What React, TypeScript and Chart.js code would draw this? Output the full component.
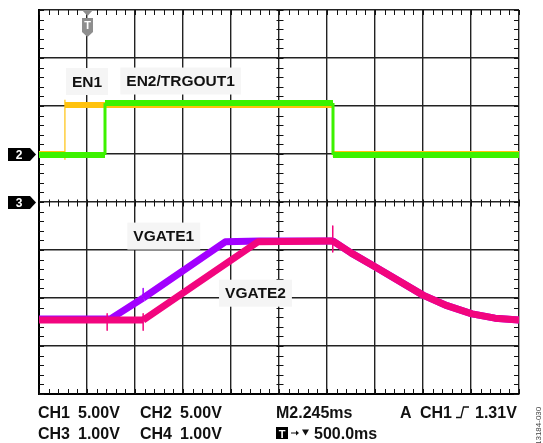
import React, { useEffect, useRef } from 'react';
import { Chart, registerables } from 'chart.js';

Chart.register(...registerables);

// ---- screen geometry (oscilloscope graticule: 10 x 8 divisions) ----
const X_DIVS = 10;
const Y_DIVS = 8;

// ---- CH1: EN1 (yellow) — time in divisions, level in divisions from bottom ----
const en1Time = [0, 0.54, 0.54, 0.54, 0.54, 6.12, 6.12, 10];
const en1Level = [5.0, 5.0, 4.88, 6.13, 6.02, 6.02, 5.0, 5.0];

// ---- CH2: EN2/TRGOUT1 (green) ----
const en2Time = [0, 1.375, 1.375, 6.125, 6.125, 10];
const en2Level = [4.98, 4.98, 6.06, 6.06, 4.98, 4.98];

// ---- CH3: VGATE1 (purple) ----
const vg1Time = [0, 1.48, 2.17, 2.17, 2.17, 3.88, 4.6, 6.12, 6.5, 7.0, 8.0, 8.5, 9.02, 9.5, 10];
const vg1Level = [1.56, 1.56, 2.0, 2.2, 2.0, 3.17, 3.19, 3.19, 2.94, 2.65, 2.06, 1.84, 1.67, 1.58, 1.54];

// ---- CH4: VGATE2 (pink) ----
const vg2Time = [0, 1.42, 1.42, 1.42, 1.42, 2.17, 2.17, 2.17, 2.17, 4.56, 6.12, 6.12, 6.12, 6.12, 6.5, 7.0, 8.0, 8.5, 9.02, 9.5, 10];
const vg2Level = [1.54, 1.54, 1.67, 1.33, 1.54, 1.54, 1.67, 1.33, 1.54, 3.17, 3.19, 3.5, 2.96, 3.19, 2.94, 2.65, 2.06, 1.84, 1.67, 1.58, 1.54];

// ---- trace labels (anchored in division coordinates) ----
const labelText = ['EN1', 'EN2/TRGOUT1', 'VGATE1', 'VGATE2'];
const labelX = [1.0, 2.95, 2.6, 4.51];
const labelY = [6.51, 6.52, 3.29, 2.1];

// ---- channel ground markers ----
const markerText = ['2', '3'];
const markerLevel = [5, 4];

// ---- trigger position marker ----
const triggerTime = 1;

// ---- readout text ----
const readoutRow1 = ['CH1', '5.00V', 'CH2', '5.00V', 'M2.245ms', 'A', 'CH1', '1.31V'];
const readoutRow1X = [38, 78, 140, 180, 276, 400, 420, 475];
const readoutRow2 = ['CH3', '1.00V', 'CH4', '1.00V', '500.0ms'];
const readoutRow2X = [38, 78, 140, 180, 314];
const figureId = '13184-030';

const COLORS = {
  en1: '#FFC20E',
  en2: '#3CF200',
  vg1: '#A200FF',
  vg2: '#F2057E',
};

const toPts = (xs: number[], ys: number[]) => xs.map((x, i) => ({ x, y: ys[i] }));

const segWidth = (thick: number, thin: number) => ({
  borderWidth: (ctx: any) => (ctx.p0.parsed.x === ctx.p1.parsed.x ? thin : thick),
});

const FONT = '"Liberation Sans", Arial, Helvetica, sans-serif';

const scopePlugin = {
  id: 'scopeDecor',
  beforeDatasetsDraw(chart: any) {
    const { ctx, chartArea: a, scales } = chart;
    const xs = scales.x;
    const ys = scales.y;
    ctx.save();
    ctx.strokeStyle = '#111';
    ctx.lineWidth = 1;
    const xc = Math.round(xs.getPixelForValue(X_DIVS / 2)) + 0.5;
    const yc = Math.round(ys.getPixelForValue(Y_DIVS / 2)) + 0.5;
    ctx.beginPath();
    for (let i = 0; i <= X_DIVS * 5; i++) {
      const x = Math.round(xs.getPixelForValue(i / 5)) + 0.5;
      ctx.moveTo(x, a.top);
      ctx.lineTo(x, a.top + 5);
      ctx.moveTo(x, a.bottom);
      ctx.lineTo(x, a.bottom - 5);
      ctx.moveTo(x, yc - 3);
      ctx.lineTo(x, yc + 4);
    }
    for (let j = 0; j <= Y_DIVS * 5; j++) {
      const y = Math.round(ys.getPixelForValue(j / 5)) + 0.5;
      ctx.moveTo(a.left, y);
      ctx.lineTo(a.left + 5, y);
      ctx.moveTo(a.right, y);
      ctx.lineTo(a.right - 5, y);
      ctx.moveTo(xc - 3, y);
      ctx.lineTo(xc + 4, y);
    }
    ctx.stroke();
    ctx.restore();
  },
  afterDatasetsDraw(chart: any) {
    const { ctx, chartArea: a, scales } = chart;
    const xs = scales.x;
    const ys = scales.y;
    ctx.save();
    // labels with light boxes
    ctx.font = `bold 15.5px ${FONT}`;
    ctx.textAlign = 'center';
    ctx.textBaseline = 'middle';
    labelText.forEach((t, i) => {
      const cx = xs.getPixelForValue(labelX[i]);
      const cy = ys.getPixelForValue(labelY[i]);
      const w = ctx.measureText(t).width + 12;
      const h = 27;
      ctx.fillStyle = '#F5F5F5';
      ctx.fillRect(cx - w / 2, cy - h / 2, w, h);
      ctx.fillStyle = '#111';
      ctx.fillText(t, cx, cy + 1);
    });

    // channel markers on the left
    markerText.forEach((t, i) => {
      const cy = Math.round(ys.getPixelForValue(markerLevel[i])) + 0.5;
      ctx.fillStyle = '#000';
      ctx.beginPath();
      ctx.moveTo(8, cy - 6.5);
      ctx.lineTo(30, cy - 6.5);
      ctx.lineTo(36, cy);
      ctx.lineTo(30, cy + 6.5);
      ctx.lineTo(8, cy + 6.5);
      ctx.closePath();
      ctx.fill();
      ctx.fillStyle = '#fff';
      ctx.font = `bold 12px ${FONT}`;
      ctx.textAlign = 'center';
      ctx.fillText(t, 19, cy + 1);
    });

    // trigger marker at top
    const tx = Math.round(xs.getPixelForValue(triggerTime)) + 0.5;
    ctx.fillStyle = '#8E8E8E';
    ctx.beginPath();
    ctx.moveTo(tx - 5.5, a.top);
    ctx.lineTo(tx + 5.5, a.top);
    ctx.lineTo(tx, a.top + 6);
    ctx.closePath();
    ctx.fill();
    ctx.beginPath();
    ctx.moveTo(tx - 5.5, a.top + 8);
    ctx.lineTo(tx + 5.5, a.top + 8);
    ctx.lineTo(tx + 5.5, a.top + 22);
    ctx.lineTo(tx, a.top + 27);
    ctx.lineTo(tx - 5.5, a.top + 22);
    ctx.closePath();
    ctx.fill();
    ctx.fillStyle = '#fff';
    ctx.font = `bold 11px ${FONT}`;
    ctx.fillText('T', tx, a.top + 16);
    ctx.restore();
  },
  afterDraw(chart: any) {
    const { ctx } = chart;
    ctx.save();
    ctx.fillStyle = '#111';
    ctx.font = `bold 16px ${FONT}`;
    ctx.textAlign = 'left';
    ctx.textBaseline = 'alphabetic';
    const base1 = 418;
    const base2 = 439;
    readoutRow1.forEach((t, i) => ctx.fillText(t, readoutRow1X[i], base1));
    readoutRow2.forEach((t, i) => ctx.fillText(t, readoutRow2X[i], base2));
    // trigger slope symbol
    ctx.strokeStyle = '#111';
    ctx.lineWidth = 1.3;
    ctx.beginPath();
    ctx.moveTo(456, base1 - 0.5);
    ctx.lineTo(461, base1 - 0.5);
    ctx.lineTo(463.5, base1 - 11);
    ctx.lineTo(469, base1 - 11);
    ctx.stroke();
    // T box, arrow, down-triangle
    ctx.fillStyle = '#000';
    ctx.fillRect(276, base2 - 12, 12, 12);
    ctx.fillStyle = '#fff';
    ctx.font = `bold 11px ${FONT}`;
    ctx.textAlign = 'center';
    ctx.fillText('T', 282, base2 - 1);
    ctx.strokeStyle = '#111';
    ctx.lineWidth = 1;
    ctx.beginPath();
    ctx.moveTo(291, base2 - 6);
    ctx.lineTo(297, base2 - 6);
    ctx.stroke();
    ctx.fillStyle = '#111';
    ctx.beginPath();
    ctx.moveTo(299, base2 - 6);
    ctx.lineTo(296, base2 - 8.5);
    ctx.lineTo(296, base2 - 3.5);
    ctx.closePath();
    ctx.fill();
    ctx.beginPath();
    ctx.moveTo(302, base2 - 9.5);
    ctx.lineTo(309, base2 - 9.5);
    ctx.lineTo(305.5, base2 - 3.5);
    ctx.closePath();
    ctx.fill();
    // figure id, rotated
    ctx.translate(539, 445);
    ctx.rotate(-Math.PI / 2);
    ctx.fillStyle = '#444';
    ctx.font = `8px ${FONT}`;
    ctx.textAlign = 'left';
    ctx.textBaseline = 'middle';
    ctx.fillText(figureId, 0, 0);
    ctx.restore();
  },
};

export default function App() {
  const ref = useRef<HTMLCanvasElement | null>(null);
  useEffect(() => {
    document.body.style.margin = '0';
    const canvas = ref.current;
    if (!canvas) return;
    const gridOpts = { color: '#222', lineWidth: 1.4, drawTicks: false };
    const chart = new Chart(canvas, {
      type: 'line',
      data: {
        datasets: [
          {
            label: 'EN2/TRGOUT1',
            data: toPts(en2Time, en2Level),
            borderColor: COLORS.en2,
            borderWidth: 6,
            pointRadius: 0,
            segment: segWidth(6, 3),
          },
          {
            label: 'EN1',
            data: toPts(en1Time, en1Level),
            borderColor: COLORS.en1,
            borderWidth: 6,
            pointRadius: 0,
            segment: segWidth(6, 1.2),
          },
          {
            label: 'VGATE2',
            data: toPts(vg2Time, vg2Level),
            borderColor: COLORS.vg2,
            borderWidth: 7,
            pointRadius: 0,
            borderJoinStyle: 'round',
            segment: segWidth(7, 1.5),
          },
          {
            label: 'VGATE1',
            data: toPts(vg1Time, vg1Level),
            borderColor: COLORS.vg1,
            borderWidth: 7,
            pointRadius: 0,
            borderJoinStyle: 'round',
            segment: segWidth(7, 1.5),
          },
        ] as any,
      },
      options: {
        responsive: false,
        animation: false,
        events: [],
        layout: { padding: { left: 39, right: 24, top: 10, bottom: 49 } },
        plugins: { legend: { display: false }, tooltip: { enabled: false } },
        scales: {
          x: {
            type: 'linear',
            min: 0,
            max: X_DIVS,
            ticks: { display: false, stepSize: 1 },
            grid: gridOpts,
            border: { display: true, color: '#000', width: 2 },
          },
          y: {
            type: 'linear',
            min: 0,
            max: Y_DIVS,
            ticks: { display: false, stepSize: 1 },
            grid: gridOpts,
            border: { display: true, color: '#000', width: 2 },
          },
        },
      } as any,
      plugins: [scopePlugin],
    });
    return () => chart.destroy();
  }, []);
  return (
    <div style={{ position: 'fixed', left: 0, top: 0, width: 543, height: 443, background: '#fff' }}>
      <canvas ref={ref} width={543} height={443} style={{ display: 'block', width: 543, height: 443 }} />
    </div>
  );
}
